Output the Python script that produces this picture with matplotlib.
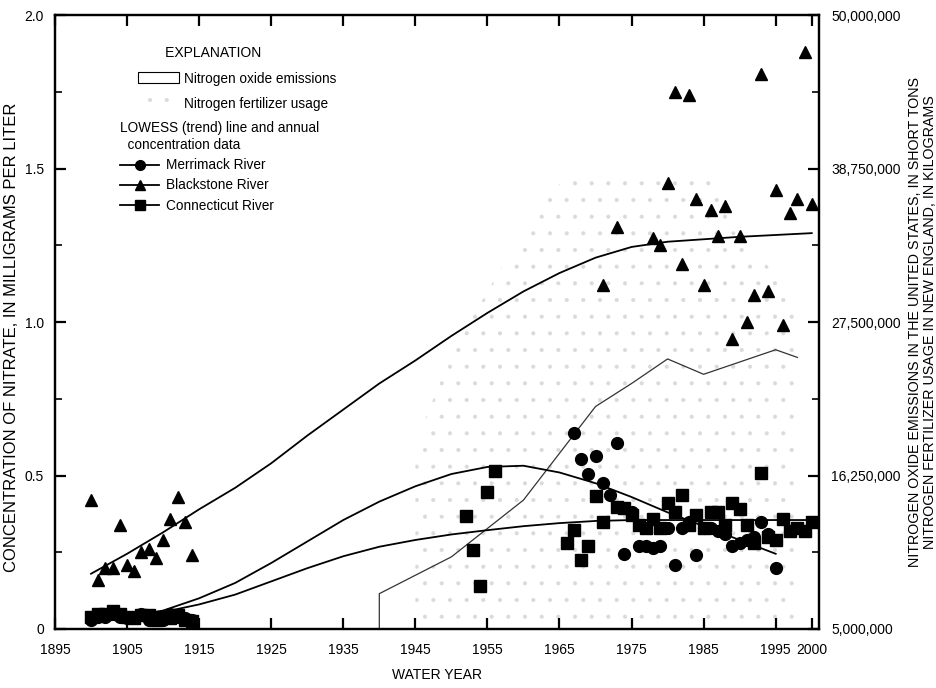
import matplotlib
matplotlib.use("Agg")
import matplotlib.pyplot as plt
from matplotlib.ticker import FixedLocator, FuncFormatter
from matplotlib.lines import Line2D
from matplotlib.patches import Patch

plt.rcParams['font.family'] = ['Liberation Sans', 'DejaVu Sans']
plt.rcParams['hatch.linewidth'] = 0.5

# ---------------- data ----------------
# Nitrogen oxide emissions (left-axis units, 0..2 maps to 5M..50M)
emis_years = [1940, 1940, 1950, 1960, 1970, 1975, 1980, 1985, 1990, 1995, 1998]
emis_vals = [0.0, 0.115, 0.235, 0.42, 0.725, 0.80, 0.88, 0.83, 0.87, 0.91, 0.885]

# Nitrogen fertilizer usage (stippled area)
fert_years = [1945, 1945, 1950, 1955, 1960, 1965, 1970, 1975, 1980, 1985, 1990, 1995, 1998]
fert_vals = [0.0, 0.60, 0.90, 1.10, 1.30, 1.45, 1.48, 1.47, 1.48, 1.50, 1.30, 1.15, 1.10]

# Annual concentration data
merr_years = [1900, 1901, 1902, 1903, 1904, 1905, 1906, 1907, 1908, 1909, 1910, 1911, 1912, 1913, 1914,
              1967, 1968, 1969, 1970, 1971, 1972, 1973, 1974, 1975, 1976, 1977, 1978, 1979, 1980,
              1981, 1982, 1983, 1984, 1985, 1986, 1987, 1988, 1989, 1990, 1991, 1992, 1993, 1994, 1995]
merr_vals = [0.03, 0.04, 0.04, 0.05, 0.04, 0.035, 0.04, 0.05, 0.03, 0.04, 0.03, 0.05, 0.04, 0.035, 0.03,
             0.64, 0.554, 0.505, 0.563, 0.475, 0.437, 0.607, 0.243, 0.38, 0.27, 0.27, 0.265, 0.27, 0.33,
             0.21, 0.33, 0.35, 0.24, 0.33, 0.33, 0.32, 0.31, 0.27, 0.28, 0.29, 0.30, 0.35, 0.31, 0.20]

black_years = [1900, 1901, 1902, 1903, 1904, 1905, 1906, 1907, 1908, 1909, 1910, 1911, 1912, 1913, 1914,
               1971, 1973, 1978, 1979, 1980, 1981, 1982, 1983, 1984, 1985, 1986, 1987, 1988, 1989,
               1990, 1991, 1992, 1993, 1994, 1995, 1996, 1997, 1998, 1999, 2000]
black_vals = [0.42, 0.16, 0.20, 0.20, 0.34, 0.21, 0.19, 0.25, 0.26, 0.23, 0.29, 0.36, 0.43, 0.35, 0.24,
              1.12, 1.31, 1.275, 1.25, 1.455, 1.75, 1.19, 1.74, 1.40, 1.12, 1.365, 1.28, 1.38, 0.945,
              1.28, 1.00, 1.09, 1.81, 1.10, 1.43, 0.99, 1.355, 1.40, 1.88, 1.385]

conn_years = [1900, 1901, 1902, 1903, 1904, 1905, 1906, 1907, 1908, 1909, 1910, 1911, 1912, 1913, 1914,
              1952, 1953, 1954, 1955, 1956, 1966, 1967, 1968, 1969, 1970, 1971, 1973, 1974, 1975,
              1976, 1977, 1978, 1979, 1980, 1981, 1982, 1983, 1984, 1985, 1986, 1987, 1988, 1989,
              1990, 1991, 1992, 1993, 1994, 1995, 1996, 1997, 1998, 1999, 2000]
conn_vals = [0.04, 0.05, 0.05, 0.06, 0.05, 0.04, 0.035, 0.045, 0.045, 0.03, 0.04, 0.035, 0.045, 0.03, 0.025,
             0.368, 0.256, 0.141, 0.447, 0.516, 0.281, 0.322, 0.224, 0.27, 0.432, 0.35, 0.396, 0.393, 0.37,
             0.34, 0.33, 0.36, 0.33, 0.41, 0.38, 0.437, 0.34, 0.37, 0.33, 0.38, 0.38, 0.34, 0.41,
             0.39, 0.34, 0.28, 0.508, 0.30, 0.29, 0.36, 0.32, 0.33, 0.32, 0.35]

# LOWESS trend lines
lowess_years = [1900, 1905, 1910, 1915, 1920, 1925, 1930, 1935, 1940, 1945, 1950, 1955, 1960,
                1965, 1970, 1975, 1980, 1985, 1990, 1995, 2000]
merr_lowess = [0.03, 0.04, 0.06, 0.10, 0.15, 0.215, 0.285, 0.355, 0.415, 0.465, 0.505, 0.528, 0.532,
               0.51, 0.475, 0.43, 0.38, 0.335, 0.29, 0.245, None]
black_lowess = [0.18, 0.245, 0.315, 0.39, 0.46, 0.54, 0.63, 0.715, 0.80, 0.875, 0.955, 1.03, 1.10,
                1.16, 1.21, 1.245, 1.262, 1.27, 1.278, 1.284, 1.29]
conn_lowess = [0.03, 0.04, 0.055, 0.08, 0.112, 0.155, 0.198, 0.237, 0.268, 0.29, 0.308, 0.322, 0.335,
               0.345, 0.352, 0.355, 0.355, 0.355, 0.355, 0.355, 0.355]

x_ticks = [1895, 1905, 1915, 1925, 1935, 1945, 1955, 1965, 1975, 1985, 1995, 2000]
left_ticks = [0, 0.5, 1.0, 1.5, 2.0]
right_ticks = [5000000, 16250000, 27500000, 38750000, 50000000]

# ---------------- figure ----------------
fig = plt.figure(figsize=(9.37, 6.88), dpi=100)
ax = fig.add_axes([0.0587, 0.0858, 0.8153, 0.892])
ax.set_xlim(1895, 2001)
ax.set_ylim(0, 2.0)

stip_color = '#dadada'
ax.fill_between(fert_years, 0, fert_vals, facecolor='none', hatch='.', edgecolor=stip_color,
                linewidth=0, zorder=1)
ax.plot(emis_years, emis_vals, color='#333333', lw=0.9, zorder=2)

ml_y = [y for y, v in zip(lowess_years, merr_lowess) if v is not None]
ml_v = [v for v in merr_lowess if v is not None]
ax.plot(ml_y, ml_v, color='black', lw=1.3, zorder=3)
ax.plot(lowess_years, black_lowess, color='black', lw=1.3, zorder=3)
ax.plot(lowess_years, conn_lowess, color='black', lw=1.3, zorder=3)

ms = 8.5
ax.plot(merr_years, merr_vals, 'o', color='black', ms=ms, zorder=4, linestyle='none')
ax.plot(black_years, black_vals, '^', color='black', ms=ms, zorder=4, linestyle='none')
ax.plot(conn_years, conn_vals, 's', color='black', ms=ms, zorder=4, linestyle='none')

for s in ax.spines.values():
    s.set_linewidth(1.6)

ax.xaxis.set_major_locator(FixedLocator(x_ticks))
ax.yaxis.set_major_locator(FixedLocator(left_ticks))
ax.yaxis.set_minor_locator(FixedLocator([0.25, 0.75, 1.25, 1.75]))
ax.yaxis.set_major_formatter(FuncFormatter(lambda v, p: '0' if v == 0 else f'{v:.1f}'))
ax.tick_params(axis='both', which='major', direction='in', length=8, width=1.6,
               labelsize=10, top=True, right=False)
ax.tick_params(axis='y', which='minor', direction='in', length=5, width=1.2, right=False)
ax.tick_params(axis='x', which='major', pad=10)
ax.tick_params(axis='y', which='major', pad=8)

ax.set_xlabel('WATER YEAR', fontsize=10, labelpad=8)
ax.set_ylabel('CONCENTRATION OF NITRATE, IN MILLIGRAMS PER LITER', fontsize=12)
ax.yaxis.set_label_coords(-0.047, 0.476)

tw = ax.twinx()
tw.set_ylim(5000000, 50000000)
tw.yaxis.set_major_locator(FixedLocator(right_ticks))
tw.yaxis.set_minor_locator(FixedLocator([10625000, 21875000, 33125000, 44375000]))
tw.yaxis.set_major_formatter(FuncFormatter(lambda v, p: f'{int(round(v)):,}'))
tw.tick_params(axis='y', which='major', direction='in', length=8, width=1.6, labelsize=10, pad=9)
tw.tick_params(axis='y', which='minor', direction='in', length=5, width=1.2)
for s in tw.spines.values():
    s.set_linewidth(1.6)
tw.set_ylabel('NITROGEN OXIDE EMISSIONS IN THE UNITED STATES, IN SHORT TONS\n'
              'NITROGEN FERTILIZER USAGE IN NEW ENGLAND, IN KILOGRAMS',
              fontsize=10.3, rotation=90, labelpad=5, linespacing=1.12)

# ---------------- explanation ----------------
leg1 = ax.legend(handles=[Patch(facecolor='white', edgecolor='black', linewidth=0.8),
                          Patch(facecolor='none', hatch='.', edgecolor=stip_color, linewidth=0)],
                 labels=['Nitrogen oxide emissions', 'Nitrogen fertilizer usage'],
                 title='       EXPLANATION', alignment='left',
                 loc='upper left', bbox_to_anchor=(0.1086, 0.950), frameon=False,
                 fontsize=9.8, title_fontsize=10, borderpad=0, borderaxespad=0,
                 handlelength=3.0, handleheight=0.85, handletextpad=0.4, labelspacing=0.85)
ax.add_artist(leg1)

leg2 = ax.legend(handles=[Line2D([], [], color='black', lw=1.3, marker='o', ms=7),
                          Line2D([], [], color='black', lw=1.3, marker='^', ms=7),
                          Line2D([], [], color='black', lw=1.3, marker='s', ms=7)],
                 labels=['Merrimack River', 'Blackstone River', 'Connecticut River'],
                 title='LOWESS (trend) line and annual\n  concentration data', alignment='left',
                 loc='upper left', bbox_to_anchor=(0.085, 0.827), frameon=False,
                 fontsize=9.8, title_fontsize=9.8, borderpad=0, borderaxespad=0,
                 handlelength=2.9, handletextpad=0.5, labelspacing=0.45)
leg2.get_title().set_linespacing(1.25)

fig.savefig('out.png', dpi=100)
